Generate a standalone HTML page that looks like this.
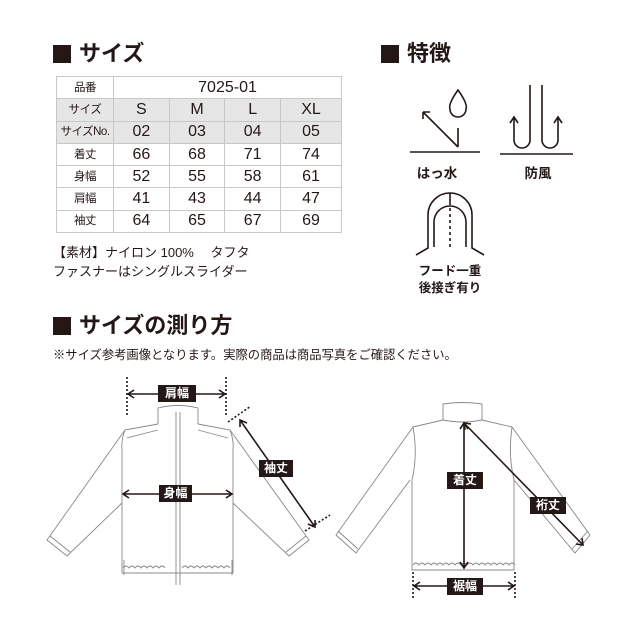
<!DOCTYPE html>
<html><head><meta charset="utf-8"><style>
*{margin:0;padding:0;box-sizing:border-box}
body{width:640px;height:640px;background:#fff;position:relative;overflow:hidden;font-family:"Liberation Sans","Noto Sans CJK JP",sans-serif;color:#231815}
.h{position:absolute;font-weight:bold;font-size:22px;line-height:24px;white-space:nowrap}
.h b{display:inline-block;width:18px;height:18px;background:#231815;margin-right:8px;vertical-align:-2px}
.t{position:absolute;white-space:nowrap}
table{position:absolute;left:56px;top:76px;border-collapse:collapse;width:286px;font-size:16px}
td{border:1px solid #c8c8c8;height:22.3px;text-align:center;padding:0;line-height:20px}
td.k{font-size:11.5px;width:57px;letter-spacing:-0.5px}
tr.g td{background:#e6e6e6}
.lab{position:absolute;color:#fff;background:#231815;font-weight:bold;font-size:12px;text-align:center;line-height:17px;height:17px}
</style></head><body>
<div class="h" style="left:53px;top:42px"><b></b>サイズ</div>
<div class="h" style="left:381px;top:42px"><b></b>特徴</div>
<div class="h" style="left:53px;top:314px"><b></b>サイズの測り方</div>
<table>
<tr><td class="k">品番</td><td colspan="4">7025-01</td></tr>
<tr class="g"><td class="k">サイズ</td><td>S</td><td>M</td><td>L</td><td>XL</td></tr>
<tr class="g"><td class="k">サイズNo.</td><td>02</td><td>03</td><td>04</td><td>05</td></tr>
<tr><td class="k">着丈</td><td>66</td><td>68</td><td>71</td><td>74</td></tr>
<tr><td class="k">身幅</td><td>52</td><td>55</td><td>58</td><td>61</td></tr>
<tr><td class="k">肩幅</td><td>41</td><td>43</td><td>44</td><td>47</td></tr>
<tr><td class="k">袖丈</td><td>64</td><td>65</td><td>67</td><td>69</td></tr>
</table>
<div class="t" style="left:53px;top:242px;font-size:13px">【素材】ナイロン 100%　 タフタ</div>
<div class="t" style="left:53px;top:261px;font-size:13px">ファスナーはシングルスライダー</div>
<div class="t" style="left:53px;top:345px;font-size:12.3px">※サイズ参考画像となります。実際の商品は商品写真をご確認ください。</div>
<div class="t" style="left:412px;top:162px;font-size:13.5px;font-weight:bold;width:50px;text-align:center">はっ水</div>
<div class="t" style="left:513px;top:162px;font-size:13.5px;font-weight:bold;width:50px;text-align:center">防風</div>
<div class="t" style="left:406px;top:263px;font-size:12.5px;font-weight:bold;width:88px;text-align:center;line-height:17px">フード一重<br>後接ぎ有り</div>
<svg width="640" height="640" style="position:absolute;left:0;top:0">
<g stroke="#231815" stroke-width="1.6" fill="none">
<line x1="410" y1="152" x2="480" y2="152"/>
<path d="M458 90 Q448 104 450 109 A8 8 0 0 0 466 109 Q468 104 458 90Z"/>
<path d="M458 147 L458 128 M458 147 L423 112 M423 112 l0 7 M423 112 l7 0"/>
<line x1="500" y1="154" x2="573" y2="154"/>
<path d="M530 85 V140 A8 8 0 0 1 514 140 V118 M510 123 l4 -6 4 6"/>
<path d="M542 85 V140 A8 8 0 0 0 558 140 V118 M554 123 l4 -6 4 6"/>
<path d="M416 255 L428 248 V215 A22 22 0 0 1 472 215 V248 L484 255"/>
<path d="M434 247 V222 A16 16 0 0 1 466 222 V247"/>
<line x1="450" y1="193" x2="450" y2="205"/>
<line x1="450" y1="208" x2="450" y2="248" stroke-dasharray="3 3"/>
</g>
<g stroke="#888" stroke-width="0.9" fill="none">
<path d="M158 424 V408 Q178 403 198 408 V424"/>
<path d="M158 424 L125 430 Q121 440 122 450 L122 573 H233 V450 Q234 440 230 430 L198 424"/>
<path d="M127 438 L158 430 M228 438 L198 430"/>
<path d="M125 430 L47 540 L67 556 L122 503"/>
<path d="M50 536 L70 552"/>
<path d="M230 430 L309 540 L289 556 L233 503"/>
<path d="M306 536 L286 552"/>
<path d="M176 412 V585 M180 412 V585"/>
<path d="M124 560 L124 575 M232 560 L232 575"/>
<path d="M123 568 q3 -4 6 0 q3 -4 6 0 q3 -4 6 0 q3 -4 6 0 q3 -4 6 0 q3 -4 6 0 q3 -4 6 0 M182 568 q3 -4 6 0 q3 -4 6 0 q3 -4 6 0 q3 -4 6 0 q3 -4 6 0 q3 -4 6 0 q3 -4 6 0 q3 -4 6 0"/>
<path d="M443 420 V404 Q463 401 482 404 V420 Q463 424 443 420Z"/>
<path d="M443 420 L413 427 Q418 455 412 480 V570 H514 V480 Q508 455 512 427 L482 420"/>
<path d="M413 427 L336 535 L356 553 L410 480"/>
<path d="M338 531 L358 549"/>
<path d="M512 427 L590 535 L575 553 L514 480"/>
<path d="M588 531 L572 549"/>
<path d="M413 565 q3 -4 6 0 q3 -4 6 0 q3 -4 6 0 q3 -4 6 0 q3 -4 6 0 q3 -4 6 0 q3 -4 6 0 q3 -4 6 0 q3 -4 6 0 q3 -4 6 0 q3 -4 6 0 q3 -4 6 0 q3 -4 6 0 q3 -4 6 0 q3 -4 6 0 q3 -4 6 0 q3 -4 6 0"/>
</g>
<g stroke="#231815" stroke-width="1.6" fill="none">
<line x1="127" y1="377" x2="127" y2="416" stroke-dasharray="2 2"/>
<line x1="226" y1="377" x2="226" y2="416" stroke-dasharray="2 2"/>
<path d="M128 394 H225 M134 390 l-6 4 6 4 M219 390 l6 4 -6 4"/>
<path d="M123 494 H232 M129 490 l-6 4 6 4 M226 490 l6 4 -6 4"/>
<line x1="228" y1="422" x2="251" y2="406" stroke-dasharray="2 2"/>
<line x1="305" y1="531" x2="330" y2="515" stroke-dasharray="2 2"/>
<path d="M240 420 L315 527 M240 427 l0 -7 7 3 M315 520 l0 7 -7 -3"/>
<path d="M464 423 V568 M460 429 l4 -6 4 6 M460 562 l4 6 4 -6"/>
<path d="M464 423 L583 545 M465 430 l-1 -7 7 1 M576 544 l7 1 -1 -7"/>
<line x1="413" y1="572" x2="413" y2="600" stroke-dasharray="2 2"/>
<line x1="515" y1="572" x2="515" y2="600" stroke-dasharray="2 2"/>
<path d="M414 586 H514 M420 582 l-6 4 6 4 M508 582 l6 4 -6 4"/>
</g>
</svg>
<div class="lab" style="left:158px;top:385px;width:38px">肩幅</div>
<div class="lab" style="left:159px;top:485px;width:33px">身幅</div>
<div class="lab" style="left:259px;top:460px;width:34px">袖丈</div>
<div class="lab" style="left:447px;top:472px;width:36px">着丈</div>
<div class="lab" style="left:530px;top:497px;width:36px">裄丈</div>
<div class="lab" style="left:447px;top:578px;width:36px">裾幅</div>
</body></html>
